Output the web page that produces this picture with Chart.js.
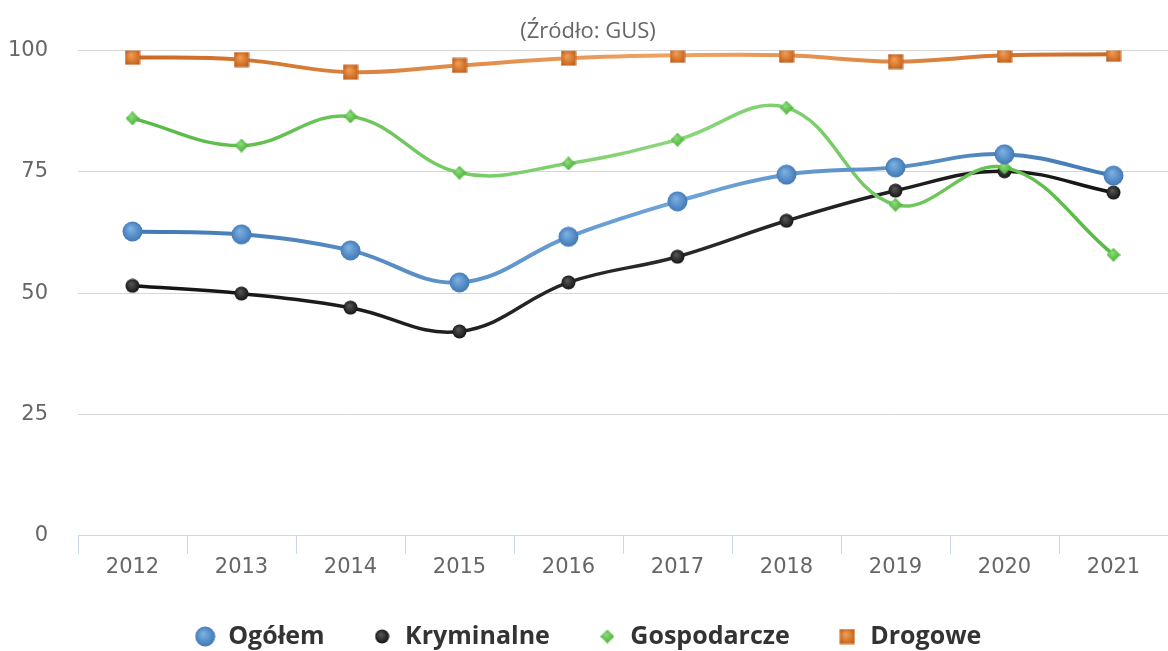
<!DOCTYPE html>
<html>
<head>
<meta charset="utf-8">
<script src="https://cdn.jsdelivr.net/npm/chart.js@4"></script>
<style>
  html, body { margin: 0; padding: 0; background: #fff; }
  #wrap { width: 1168px; height: 651px; }
</style>
</head>
<body>
<div id="wrap"><canvas id="myLineChart"></canvas></div>
<script>
const years = ["2012", "2013", "2014", "2015", "2016", "2017", "2018", "2019", "2020", "2021"];
const ogolem = [62.7, 62.1, 58.8, 52.2, 61.6, 68.9, 74.4, 75.9, 78.6, 74.2];
const kryminalne = [51.5, 49.9, 47.0, 42.1, 52.2, 57.5, 64.9, 71.1, 75.1, 70.7];
const gospodarcze = [86.0, 80.4, 86.4, 74.8, 76.7, 81.6, 88.2, 68.2, 75.9, 57.9];
const drogowe = [98.6, 98.1, 95.5, 96.9, 98.4, 99.0, 99.0, 97.7, 99.0, 99.2];
const yTicks = [0, 25, 50, 75, 100];

const tickFont = { family: "'DejaVu Sans', sans-serif", size: 21 };

// small shaded marker images, used both on the lines and in the legend
function makeMarker(shape, size, light, dark) {
  const c = document.createElement("canvas");
  c.width = size;
  c.height = size;
  const g = c.getContext("2d");
  const h = size / 2;
  const grad = g.createRadialGradient(h * 0.8, h * 0.7, 0, h, h, h * 1.1);
  grad.addColorStop(0, light);
  grad.addColorStop(1, dark);
  g.fillStyle = grad;
  g.beginPath();
  if (shape === "circle") {
    g.arc(h, h, h - 0.5, 0, Math.PI * 2);
  } else if (shape === "diamond") {
    g.moveTo(h, 0);
    g.lineTo(size, h);
    g.lineTo(h, size);
    g.lineTo(0, h);
    g.closePath();
  } else {
    g.rect(0.5, 0.5, size - 1, size - 1);
  }
  g.fill();
  return c;
}

const blueDot = makeMarker("circle", 21, "#7fb4e6", "#3a72b0");
const blackDot = makeMarker("circle", 15, "#5a5a5a", "#0c0c0c");
const greenDiamond = makeMarker("diamond", 14, "#8fe07c", "#45a833");
const orangeSquare = makeMarker("square", 16, "#f5a055", "#c25f1b");

// lines are a little lighter in the middle than at the ends
function lineGradient(ends, middle) {
  return (context) => {
    const { ctx, chartArea } = context.chart;
    if (!chartArea) return ends;
    const grad = ctx.createLinearGradient(chartArea.left, 0, chartArea.right, 0);
    grad.addColorStop(0, ends);
    grad.addColorStop(0.55, middle);
    grad.addColorStop(1, ends);
    return grad;
  };
}

const ctx = document.getElementById("myLineChart").getContext("2d");
const myLineChart = new Chart(ctx, {
  type: "line",
  data: {
    labels: years,
    datasets: [
      {
        label: "Ogółem",
        data: ogolem,
        borderColor: lineGradient("#3f75ae", "#6ea4d8"),
        backgroundColor: "#4f8fd1",
        borderWidth: 4,
        pointStyle: blueDot,
        tension: 0.4,
        order: 1,
      },
      {
        label: "Kryminalne",
        data: kryminalne,
        borderColor: lineGradient("#111111", "#2a2a2a"),
        backgroundColor: "#222222",
        borderWidth: 3.5,
        pointStyle: blackDot,
        tension: 0.4,
        order: 3,
      },
      {
        label: "Gospodarcze",
        data: gospodarcze,
        borderColor: lineGradient("#52b63e", "#8cd67c"),
        backgroundColor: "#62c552",
        borderWidth: 3.5,
        pointStyle: greenDiamond,
        tension: 0.4,
        order: 2,
      },
      {
        label: "Drogowe",
        data: drogowe,
        borderColor: lineGradient("#c8631d", "#efa464"),
        backgroundColor: "#e07a2c",
        borderWidth: 4,
        pointStyle: orangeSquare,
        tension: 0.4,
        order: 4,
      },
    ],
  },
  options: {
    responsive: true,
    maintainAspectRatio: false,
    animation: false,
    layout: {
      autoPadding: false,
      padding: { left: 8, right: 0, top: 12, bottom: -8 },
    },
    scales: {
      x: {
        offset: true,
        afterFit: (axis) => {
          axis.height -= 4;
        },
        grid: {
          offset: true,
          drawOnChartArea: false,
          tickLength: 18,
          color: "#ccd6eb",
        },
        border: { color: "#ccd6eb", width: 1 },
        ticks: { color: "#666666", font: tickFont, padding: 1 },
      },
      y: {
        min: 0,
        max: 100,
        afterBuildTicks: (axis) => {
          axis.ticks = yTicks.map((v) => ({ value: v }));
        },
        afterFit: (axis) => {
          axis.width = 70;
        },
        grid: { color: "#d6d6d6", drawTicks: false },
        border: { display: false },
        ticks: { color: "#666666", font: tickFont, padding: 30 },
      },
    },
    plugins: {
      title: {
        display: true,
        text: "(Źródło: GUS)",
        color: "#666666",
        font: { family: "'Open Sans', sans-serif", size: 22, weight: "normal" },
        padding: { top: 7, bottom: 5 },
      },
      legend: {
        display: true,
        position: "bottom",
        labels: {
          usePointStyle: true,
          boxWidth: 21,
          boxHeight: 21,
          padding: 47,
          color: "#333333",
          font: { family: "'Open Sans', sans-serif", size: 25, weight: "bold" },
          sort: (a, b) => a.datasetIndex - b.datasetIndex,
        },
      },
      tooltip: { enabled: false },
    },
  },
});
</script>
</body>
</html>
